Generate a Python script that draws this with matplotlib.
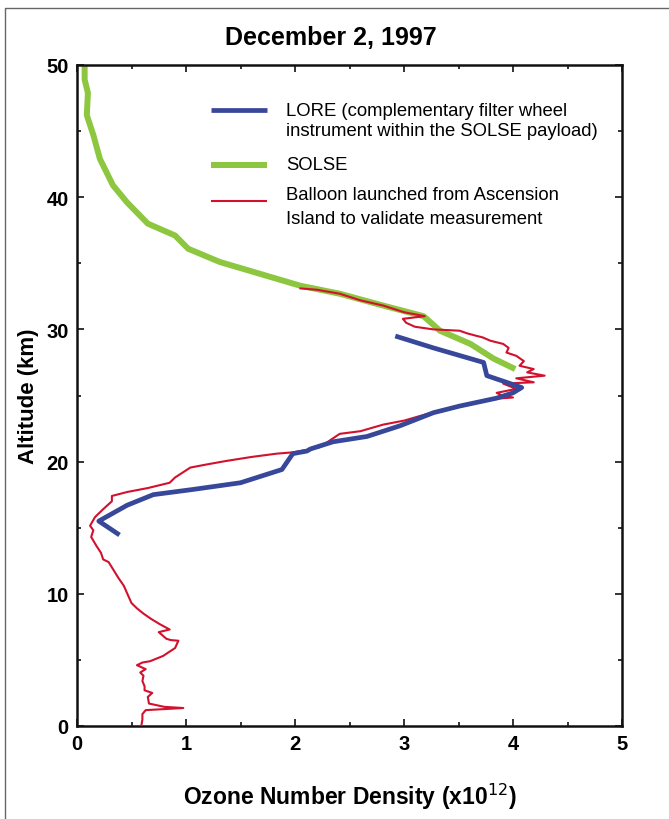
import matplotlib
matplotlib.use("Agg")
import matplotlib.pyplot as plt
from matplotlib import font_manager
from matplotlib.lines import Line2D
from matplotlib.ticker import MultipleLocator

# ---- data ----
solse_x = [0.07, 0.07, 0.10, 0.09, 0.15, 0.21, 0.33, 0.46, 0.65, 0.90, 1.02, 1.31, 1.68, 2.05,
           2.41, 2.81, 3.18, 3.33, 3.61, 3.82, 4.02]
solse_y = [50.0, 48.9, 47.9, 46.2, 44.7, 42.9, 40.9, 39.6, 38.0, 37.1, 36.1, 35.1, 34.2, 33.3,
           32.7, 31.8, 31.0, 29.9, 28.9, 27.8, 27.0]

lore_x = [2.92, 3.27, 3.73, 3.76, 3.94, 4.08, 4.00, 3.85, 3.51, 3.27, 2.96, 2.66, 2.35, 2.14,
          2.11, 1.98, 1.88, 1.50, 1.07, 0.70, 0.46, 0.20, 0.39]
lore_y = [29.5, 28.6, 27.5, 26.5, 26.0, 25.6, 25.2, 24.8, 24.2, 23.7, 22.7, 21.9, 21.5, 20.95,
          20.8, 20.6, 19.4, 18.4, 17.9, 17.5, 16.7, 15.5, 14.45]

balloon_x = [0.59, 0.60, 0.60, 0.63, 0.975, 0.80, 0.66, 0.65, 0.69, 0.62, 0.62, 0.60, 0.61, 0.58,
             0.63, 0.55, 0.60, 0.67, 0.79, 0.90, 0.93, 0.86, 0.82, 0.75, 0.85, 0.76, 0.68, 0.61,
             0.55, 0.50, 0.47, 0.43, 0.38, 0.35, 0.29, 0.24, 0.22, 0.18, 0.13, 0.15, 0.12, 0.165,
             0.24, 0.32, 0.32, 0.46, 0.65, 0.85, 0.90, 1.04, 1.20, 1.37, 1.60, 1.83, 1.98, 2.12,
             2.23, 2.41, 2.60, 2.81, 3.00, 3.21, 3.35, 3.51, 3.76, 4.00, 3.90, 3.85, 4.03, 3.91,
             4.19, 4.03, 4.29, 4.13, 4.19, 4.06, 4.10, 4.03, 3.94, 3.96, 3.91, 3.79, 3.72, 3.67,
             3.58, 3.51, 3.27, 3.10, 3.02, 2.99, 3.19, 3.00, 2.81, 2.60, 2.41, 2.20, 2.05]
balloon_y = [0.0, 0.5, 0.9, 1.2, 1.36, 1.45, 1.7, 2.2, 2.5, 2.7, 3.0, 3.4, 3.8, 4.05,
             4.3, 4.6, 4.8, 4.9, 5.3, 5.9, 6.45, 6.5, 6.6, 7.1, 7.3, 7.7, 8.1, 8.5,
             8.9, 9.3, 9.85, 10.6, 11.2, 11.6, 12.4, 12.6, 13.1, 13.6, 14.3, 14.8, 15.15, 15.8,
             16.4, 17.0, 17.4, 17.7, 18.0, 18.4, 18.8, 19.55, 19.8, 20.05, 20.35, 20.6, 20.7, 20.9,
             21.1, 22.1, 22.3, 22.8, 23.1, 23.6, 23.8, 24.2, 24.7, 24.85, 25.0, 25.2, 25.5, 25.9,
             26.0, 26.3, 26.5, 26.75, 27.0, 27.25, 27.6, 28.0, 28.25, 28.6, 28.9, 29.15, 29.4, 29.5,
             29.7, 29.9, 30.0, 30.2, 30.5, 30.8, 31.0, 31.3, 31.8, 32.2, 32.7, 33.0, 33.1]

legend_labels = [["LORE (complementary filter wheel", "instrument within the SOLSE payload)"],
                 ["SOLSE"],
                 ["Balloon launched from Ascension", "Island to validate measurement"]]
xticks = [0, 1, 2, 3, 4, 5]
yticks = [0, 10, 20, 30, 40, 50]

# ---- fonts ----
names = {f.name for f in font_manager.fontManager.ttflist}
fam = "Liberation Sans Narrow" if "Liberation Sans Narrow" in names else "Liberation Sans"
plt.rcParams["font.family"] = [fam, "DejaVu Sans"]

BLUE = "#37479a"
GREEN = "#8dc63f"
RED = "#d2112e"

W, H = 669, 820
fig = plt.figure(figsize=(W / 100, H / 100), dpi=100)
ax = fig.add_axes([77 / W, 1 - 727 / H, (622 - 77) / W, (727 - 66) / H])

ax.plot(balloon_x, balloon_y, color=RED, lw=1.5, zorder=3)
ax.plot(solse_x, solse_y, color=GREEN, lw=4.3, solid_capstyle="butt", zorder=2)
ax.plot(lore_x, lore_y, color=BLUE, lw=3.4, solid_capstyle="butt", zorder=4)

ax.set_xlim(0, 5)
ax.set_ylim(0, 50)
ax.set_xticks(xticks)
ax.set_yticks(yticks)
ax.set_xticklabels([str(v) for v in xticks])
ax.set_yticklabels([str(v) for v in yticks])
ax.xaxis.set_minor_locator(MultipleLocator(0.5))
ax.yaxis.set_minor_locator(MultipleLocator(5))
ax.tick_params(which="both", direction="in", top=True, right=True, width=1.2, color="#111")
ax.tick_params(which="major", length=5, labelsize=14.5, pad=6)
ax.tick_params(which="minor", length=3)
for lab in ax.get_xticklabels() + ax.get_yticklabels():
    lab.set_fontweight("bold")
for sp in ax.spines.values():
    sp.set_linewidth(1.8)
    sp.set_color("#111")

ax.set_xlabel("Ozone Number Density (x10$^{12}$)", fontsize=16.5, fontweight="bold", labelpad=20)
ax.set_ylabel("Altitude (km)", fontsize=16, fontweight="bold", labelpad=5)

fig.text(331 / W, 1 - 38 / H, "December 2, 1997", ha="center", va="center",
         fontsize=18, fontweight="bold")

# legend (manual)
def fx(px):
    return (px - 77) / (622 - 77)

def fy(py):
    return (727 - py) / (727 - 66)

handle_rows = [(111, BLUE, 3.4), (166, GREEN, 4.3), (202, RED, 1.5)]
text_rows = [[111, 132], [166], [195, 220]]
for (hy, col, lw), labels, ty in zip(handle_rows, legend_labels, text_rows):
    ax.add_line(Line2D([fx(211), fx(267)], [fy(hy), fy(hy)], transform=ax.transAxes,
                       color=col, lw=lw, solid_capstyle="butt"))
    for lab, yy in zip(labels, ty):
        ax.text(fx(286), fy(yy), lab, transform=ax.transAxes, ha="left", va="center",
                fontsize=13.3)

# figure border (top and left)
fig.add_artist(Line2D([5 / W, 5 / W, 1.0], [0.0, 1 - 9 / H, 1 - 9 / H],
                      transform=fig.transFigure, color="#666", lw=1.0))

fig.savefig("out.png", dpi=100)
